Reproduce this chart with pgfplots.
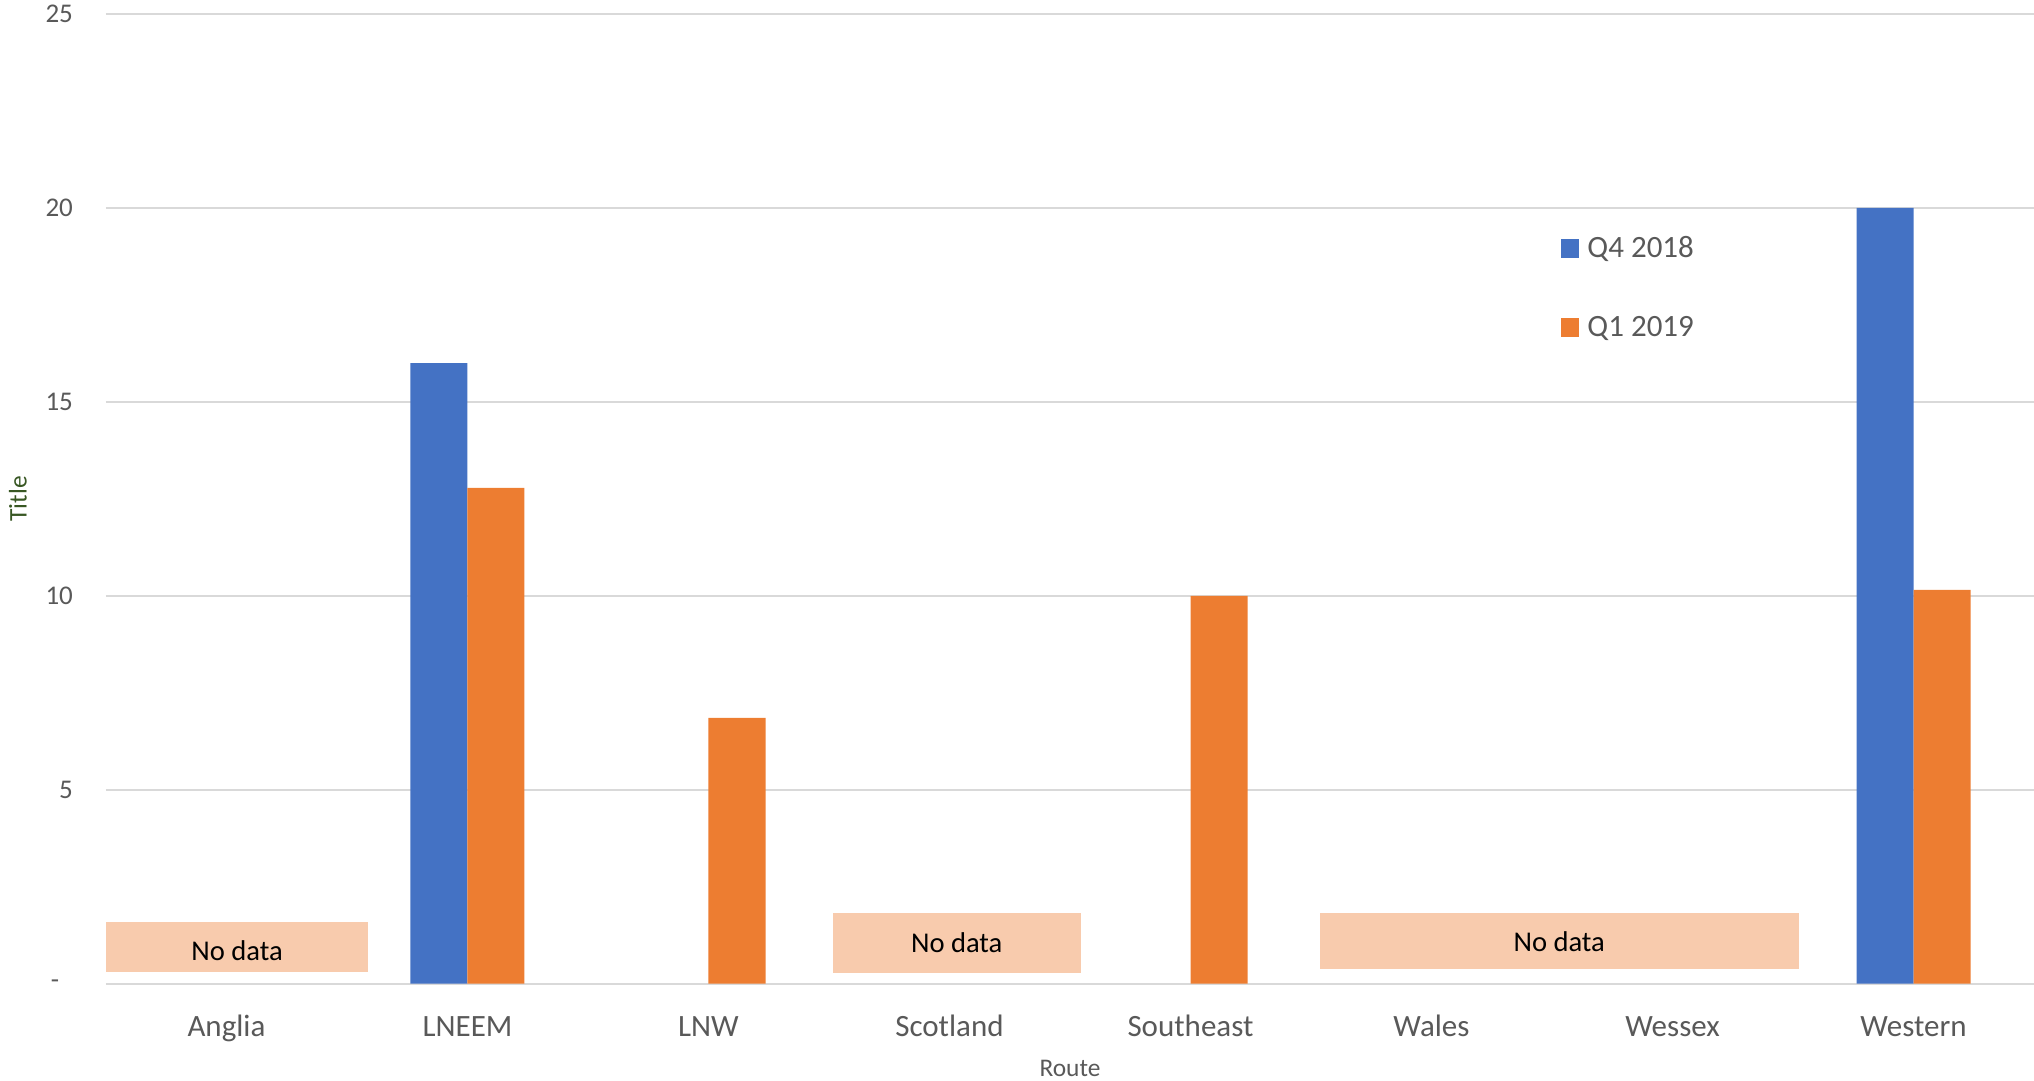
\documentclass[border=0pt]{standalone}
\usepackage{fontspec}
\setmainfont{Carlito}
\usepackage{pgfplots}
\pgfplotsset{compat=1.18}
\definecolor{qblue}{HTML}{4472C4}
\definecolor{qorange}{HTML}{ED7D31}
\definecolor{nobox}{HTML}{F8CBAD}
\definecolor{gridc}{HTML}{D9D9D9}
\definecolor{txt}{HTML}{595959}
\definecolor{ttl}{HTML}{385723}
\pgfplotsset{sq legend/.style={legend image code/.code={\fill[##1] (0pt,-4.5pt) rectangle (9pt,5pt);}}}
\begin{document}
\begin{tikzpicture}
\path[use as bounding box] (-53pt,-48.65pt) rectangle (964pt,491.85pt);
\begin{axis}[
  scale only axis, width=964pt, height=484.85pt,
  anchor=south west, at={(0pt,0pt)},
  xmin=-0.5, xmax=7.5, ymin=0, ymax=25,
  ybar=0pt, bar width=28.5pt,
  axis line style={draw=none},
  tick style={draw=none}, major tick length=0pt,
  ymajorgrids, grid style={gridc, line width=1pt},
  xtick={0,1,2,3,4,5,6,7},
  xticklabels={Anglia,LNEEM,LNW,Scotland,Southeast,Wales,Wessex,Western},
  ytick={0,5,10,15,20,25},
  yticklabels={-\hphantom{0},5,10,15,20,25},
  xticklabel style={font=\fontsize{15.5}{18}\selectfont, text=txt, anchor=base, yshift=-26.6pt},
  yticklabel style={font=\fontsize{13.5}{16}\selectfont, text=txt, anchor=east, inner sep=0pt, xshift=-16.35pt},
  xlabel={Route},
  xlabel style={at={(axis description cs:0.5,0)}, anchor=base, yshift=-46.5pt, font=\fontsize{12.7}{15}\selectfont, text=txt},
  ylabel={Title},
  ylabel style={at={(axis description cs:0,0.5)}, anchor=center, yshift=44pt, font=\fontsize{12.7}{15}\selectfont, text=ttl},
  legend style={draw=none, fill=none, at={(0.7547,0.772)}, anchor=north west,
    font=\fontsize{15.5}{18}\selectfont, text=txt, inner sep=0pt,
    nodes={inner sep=0pt, text height=11pt, text depth=3pt},
    column sep=4pt, row sep=25.5pt},
  legend cell align=left,
]
\addplot[fill=qblue, draw=none, sq legend] coordinates {(1,16) (7,20)};
\addplot[fill=qorange, draw=none, sq legend] coordinates {(1,12.78) (2,6.85) (4,10) (7,10.15)};
\legend{Q4 2018, Q1 2019}
\fill[nobox] (axis cs:-0.5,0.30) rectangle (axis cs:0.587,1.59);
\node[font=\fontsize{14.3}{17}\selectfont, text=black] at (axis cs:0.044,0.84) {No data};
\fill[nobox] (axis cs:2.516,0.28) rectangle (axis cs:3.544,1.82);
\node[font=\fontsize{14.3}{17}\selectfont, text=black] at (axis cs:3.03,1.05) {No data};
\fill[nobox] (axis cs:4.539,0.38) rectangle (axis cs:6.526,1.82);
\node[font=\fontsize{14.3}{17}\selectfont, text=black] at (axis cs:5.53,1.08) {No data};
\end{axis}
\end{tikzpicture}
\end{document}
